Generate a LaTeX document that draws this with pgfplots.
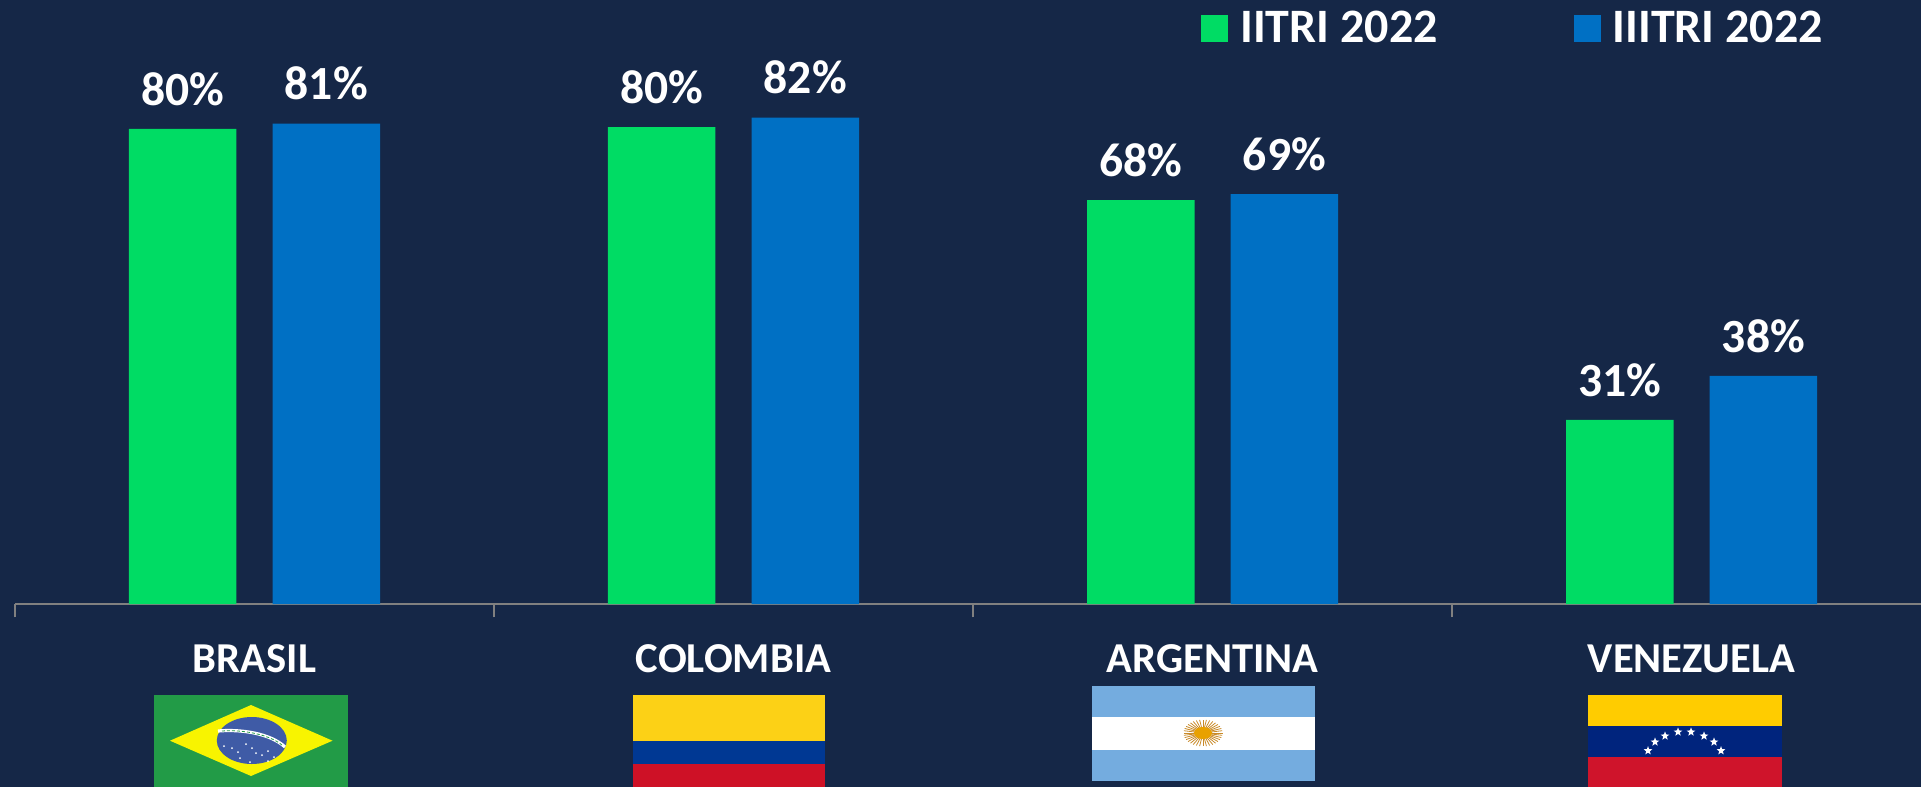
\documentclass[border=0pt]{standalone}
\usepackage{fontspec}
\setmainfont{Carlito}
\usepackage{pgfplots}
\pgfplotsset{compat=1.18}
\usetikzlibrary{shapes.geometric}
\definecolor{bg}{HTML}{152747}
\definecolor{vgreen}{HTML}{00DC64}
\definecolor{vblue}{HTML}{0070C4}
\definecolor{axisgray}{HTML}{808080}
\definecolor{brgreen}{HTML}{229B47}
\definecolor{bryellow}{HTML}{F8F400}
\definecolor{brblue}{HTML}{3F5BA6}
\definecolor{coyellow}{HTML}{FCD116}
\definecolor{coblue}{HTML}{003893}
\definecolor{cored}{HTML}{CE1126}
\definecolor{arblue}{HTML}{74ACDF}
\definecolor{arsun}{HTML}{E8A100}
\definecolor{array}{HTML}{C98B2A}
\definecolor{veyellow}{HTML}{FFCC00}
\definecolor{veblue}{HTML}{00247D}
\definecolor{vered}{HTML}{CF142B}
% 1 px of the reference = 0.5pt
\begin{document}
\begin{tikzpicture}
\path[use as bounding box, fill=bg] (0,0) rectangle (960.5pt,-393.5pt);
\begin{axis}[
  at={(7.5pt,-302pt)}, anchor=south west,
  scale only axis, width=953pt, height=302pt,
  ybar, bar width=53.75pt,
  xmin=-0.5, xmax=3.479, ymin=0, ymax=101.7,
  axis x line*=bottom, hide y axis,
  x axis line style={draw=axisgray, line width=0.75pt, -},
  xtick={0,1,2,3}, xticklabels={BRASIL,COLOMBIA,ARGENTINA,VENEZUELA},
  major tick length=0pt,
  extra x ticks={-0.5,0.5,1.5,2.5}, extra x tick labels={},
  extra x tick style={major tick length=6.7pt, tick style={draw=axisgray, line width=0.6pt}},
  xtick align=outside,
  xticklabel style={font=\fontsize{21.3}{25}\selectfont\bfseries, text=white, anchor=base, yshift=-34pt},
  point meta=explicit symbolic,
  nodes near coords={\pgfplotspointmeta\%},
  nodes near coords style={font=\fontsize{23.8}{28}\selectfont\bfseries, text=white, anchor=base, yshift=11.8pt, inner sep=0pt},
  legend columns=2,
  legend style={at={(0.6222,0.9893)}, anchor=north west, draw=none, fill=none, inner sep=0pt,
    font=\fontsize{24}{28}\selectfont\bfseries, text=white,
    /tikz/column 1/.style={column sep=4pt},
    /tikz/column 2/.style={column sep=66pt},
    /tikz/column 3/.style={column sep=4pt}},
  legend image code/.code={\fill[#1] (0,-6.75pt) rectangle (13.5pt,6.75pt);},
]
\addplot[draw=none, fill=vgreen, bar shift=-35.9pt] coordinates {(0,80.0)[80] (1,80.3)[80] (2,68.0)[68] (3,31.0)[31]};
\addplot[draw=none, fill=vblue, bar shift=35.9pt] coordinates {(0,80.9)[81] (1,81.9)[82] (2,69.0)[69] (3,38.4)[38]};
\legend{IITRI 2022,IIITRI 2022}
\end{axis}
\begin{scope}[x=0.5pt,y=-0.5pt]
  % Brasil
  \fill[brgreen] (154,695) rectangle (348,787);
  \fill[bryellow] (170,740.7) -- (251,705) -- (332.5,740.7) -- (251,776) -- cycle;
  \fill[brblue] (251.8,740.5) ellipse [x radius=35, y radius=23.5];
  \draw[white, line width=1.6pt] (218,731) .. controls (240,729) and (270,733) .. (285,747);
  \draw[brgreen, line width=0.4pt, dash pattern=on 1.5pt off 1pt] (222,731) .. controls (240,729.5) and (268,733.5) .. (282,745);
  \foreach \px/\py in {224/746,232/748,238/752,246/744,252/748,256/753,262/755,268/751,274/757,268/761,240/758,250/762}
    \fill[white] (\px,\py) circle (0.5pt);
  % Colombia
  \fill[coyellow] (633,695) rectangle (825,741);
  \fill[coblue] (633,741) rectangle (825,764);
  \fill[cored] (633,764) rectangle (825,787);
  % Argentina
  \fill[arblue] (1092,686) rectangle (1315,781);
  \fill[white] (1092,717) rectangle (1315,750);
  \foreach \a in {0,10,...,350}
    \draw[array, line width=0.4pt] (1203,733) -- +({19.5*cos(\a)},{13.3*sin(\a)});
  \fill[arsun] (1203,733) ellipse [x radius=9, y radius=6];
  % Venezuela
  \fill[veyellow] (1588,695) rectangle (1782,726);
  \fill[veblue] (1588,726) rectangle (1782,757);
  \fill[vered] (1588,757) rectangle (1782,787);
  \foreach \px/\py in {1648/750.7,1655/742,1665/736,1678/732,1691/732,1704/736,1714/742,1721/750.7}
    \node[star, star points=5, star point ratio=2.4, fill=white, inner sep=0pt, minimum size=4.6pt] at (\px,\py) {};
\end{scope}
\end{tikzpicture}
\end{document}
